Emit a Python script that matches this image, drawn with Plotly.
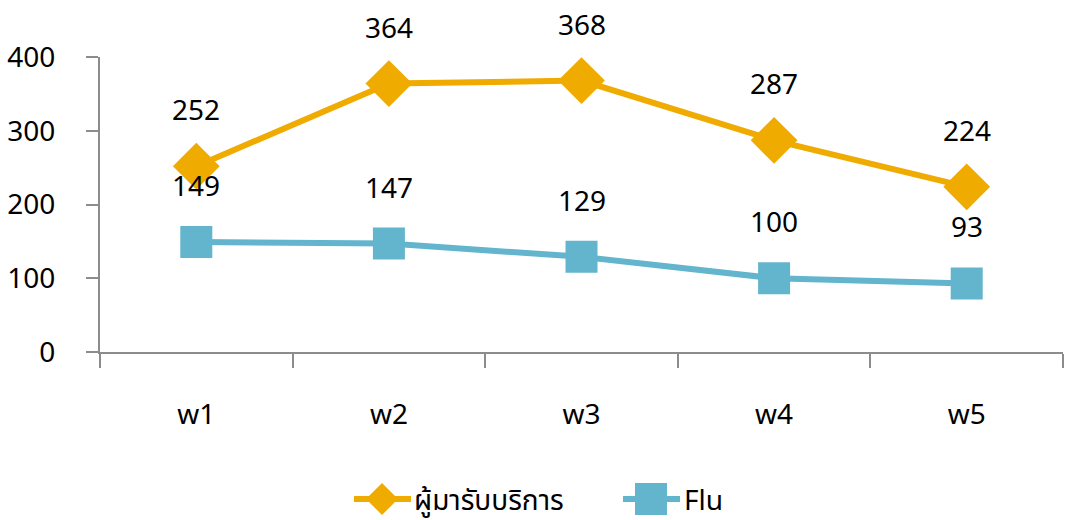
import plotly.graph_objects as go

categories = ["w1", "w2", "w3", "w4", "w5"]
service_users = [252, 364, 368, 287, 224]
flu = [149, 147, 129, 100, 93]
series_names = ["ผู้มารับบริการ", "Flu"]

FONT = "'Noto Sans', 'Noto Sans Thai', 'DejaVu Sans', sans-serif"
ORANGE = "#F0AB00"
BLUE = "#62B5CC"
AXIS = "#8C8C8C"

W, H = 1066, 520
ML, MT = 100, 57
MR = W - 1063
MB = H - 352
PW, PH = W - ML - MR, H - MT - MB


def px(xs):
    return (xs - ML) / PW


def py(ys):
    return (H - MB - ys) / PH


fig = go.Figure()
fig.add_trace(go.Scatter(
    x=categories, y=service_users, name=series_names[0], mode="lines+markers",
    line=dict(color=ORANGE, width=6),
    marker=dict(symbol="diamond", size=36, color=ORANGE),
    showlegend=False,
))
fig.add_trace(go.Scatter(
    x=categories, y=flu, name=series_names[1], mode="lines+markers",
    line=dict(color=BLUE, width=6),
    marker=dict(symbol="square", size=32, color=BLUE),
    showlegend=False,
))

for series in (service_users, flu):
    for c, v in zip(categories, series):
        fig.add_annotation(x=c, y=v, text=str(v), showarrow=False, yshift=57,
                           font=dict(size=28, color="#000000", family=FONT))

# custom legend (layout elements in paper coordinates)
ly = 499
shapes = []
shapes.append(dict(type="line", xref="paper", yref="paper", x0=px(354), x1=px(411),
                   y0=py(ly), y1=py(ly), line=dict(color=ORANGE, width=6)))
shapes.append(dict(type="path", xref="paper", yref="paper",
                   path=f"M {px(366)} {py(ly)} L {px(382)} {py(483)} L {px(398)} {py(ly)} L {px(382)} {py(515)} Z",
                   fillcolor=ORANGE, line=dict(width=0)))
shapes.append(dict(type="line", xref="paper", yref="paper", x0=px(623), x1=px(680),
                   y0=py(ly), y1=py(ly), line=dict(color=BLUE, width=6)))
shapes.append(dict(type="rect", xref="paper", yref="paper", x0=px(635), x1=px(667),
                   y0=py(483), y1=py(515), fillcolor=BLUE, line=dict(width=0)))
fig.add_annotation(xref="paper", yref="paper", x=px(412), y=py(ly), xanchor="left",
                   yanchor="middle", text=series_names[0], showarrow=False,
                   font=dict(size=28, color="#000000", family=FONT))
fig.add_annotation(xref="paper", yref="paper", x=px(682), y=py(ly), xanchor="left",
                   yanchor="middle", text=series_names[1], showarrow=False,
                   font=dict(size=28, color="#000000", family=FONT))

fig.update_layout(
    width=W, height=H,
    margin=dict(l=ML, r=MR, t=MT, b=MB, autoexpand=False),
    plot_bgcolor="white", paper_bgcolor="white",
    font=dict(family=FONT, size=28, color="#000000"),
    showlegend=False,
    shapes=shapes,
)
fig.update_xaxes(
    type="category", range=[-0.5, 4.5], showline=True, linecolor=AXIS, linewidth=2,
    ticks="outside", tickson="boundaries", ticklen=14, tickcolor=AXIS, tickwidth=2,
    showgrid=False, ticklabelstandoff=36, tickfont=dict(size=28), automargin=False,
)
fig.update_yaxes(
    range=[0, 400], tickvals=[0, 100, 200, 300, 400], showline=True, linecolor=AXIS,
    linewidth=2, ticks="outside", ticklen=12, tickcolor=AXIS, tickwidth=2,
    showgrid=False, zeroline=False, ticklabelstandoff=25, tickfont=dict(size=28),
    automargin=False,
)

fig.write_html("out.html", config={"displayModeBar": False},
               post_script="document.body.style.margin='0px';document.body.style.overflow='hidden';")
